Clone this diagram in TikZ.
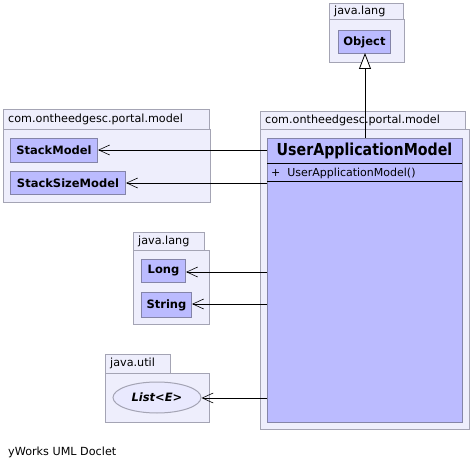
\documentclass[tikz,border=0pt]{standalone}
\usepackage{fontspec}
\setmainfont{DejaVu Sans}
\usetikzlibrary{arrows.meta,shapes.geometric}
\definecolor{pkgfill}{HTML}{EEEEFC}
\definecolor{pkgline}{HTML}{A4A4B4}
\definecolor{clsfill}{HTML}{BBBBFF}
\definecolor{clsline}{HTML}{8484A8}
\tikzset{
  pkg/.style={draw=pkgline, fill=pkgfill, line width=1pt, inner sep=0pt, anchor=north west},
  pkglabel/.style={anchor=west, inner sep=0pt, font=\fontsize{11.2}{13}\selectfont},
  cls/.style={draw=clsline, fill=clsfill, line width=1pt, inner sep=0pt, anchor=north west},
  clsname/.style={font=\bfseries\fontsize{11.5}{13}\selectfont},
  dep/.style={draw=black, line width=0.8pt, -{Straight Barb[length=11pt,width=10pt,line width=0.6pt]}},
  gen/.style={draw=black, line width=0.8pt, -{Triangle[open,fill=white,length=16pt,width=12pt,line width=0.8pt]}},
}
\begin{document}
\begin{tikzpicture}[x=1pt,y=-1pt]
\useasboundingbox[fill=white] (0,0) rectangle (472,468);
% java.lang (top)
\node[pkg, minimum width=74pt, minimum height=16pt] (jl1tab) at (329,3) {};
\node[pkg, minimum width=75pt, minimum height=43pt] (jl1body) at (329,19) {};
\node[pkglabel] (jl1lbl) at (334,11) {java.lang};
\node[cls, minimum width=52pt, minimum height=23pt] (object) at (338,30) {};
\node[clsname] (objtxt) at (object.center) {Object};
% left package
\node[pkg, minimum width=206pt, minimum height=20pt] (lptab) at (3,109) {};
\node[pkg, minimum width=207pt, minimum height=73pt] (lpbody) at (3,129) {};
\node[pkglabel] (lplbl) at (8,119) {com.ontheedgesc.portal.model};
\node[cls, minimum width=87pt, minimum height=24pt] (stack) at (10,138) {};
\node[clsname] (stacktxt) at (stack.center) {StackModel};
\node[cls, minimum width=115pt, minimum height=23pt] (stacksize) at (10,171) {};
\node[clsname] (stacksizetxt) at (stacksize.center) {StackSizeModel};
% right package
\node[pkg, minimum width=205pt, minimum height=18pt] (rptab) at (260,111) {};
\node[pkg, minimum width=209pt, minimum height=300pt] (rpbody) at (260,129) {};
\node[pkglabel] (rplbl) at (265,120) {com.ontheedgesc.portal.model};
\node[cls, minimum width=195pt, minimum height=284pt] (uam) at (267,138) {};
\node (uamtxt) at (364.5,151) {\scalebox{0.86}[1]{\bfseries\fontsize{16.5}{20}\selectfont UserApplicationModel}};
\coordinate (s1l) at (267,164); \coordinate (s1r) at (462,164);
\coordinate (s2l) at (267,182); \coordinate (s2r) at (462,182);
\draw[line width=1pt] (s1l) -- (s1r);
\draw[line width=1pt] (s2l) -- (s2r);
\node[anchor=west, inner sep=0pt, font=\fontsize{11}{12}\selectfont] (ctor) at (271,173) {+\ \ UserApplicationModel()};
% java.lang (middle)
\node[pkg, minimum width=71pt, minimum height=18pt] (jl2tab) at (133,232) {};
\node[pkg, minimum width=76pt, minimum height=74pt] (jl2body) at (133,250) {};
\node[pkglabel] (jl2lbl) at (138,241) {java.lang};
\node[cls, minimum width=44pt, minimum height=23pt] (long) at (141,259) {};
\node[clsname] (longtxt) at (long.center) {Long};
\node[cls, minimum width=50pt, minimum height=25pt] (string) at (141,292) {};
\node[clsname] (stringtxt) at (string.center) {String};
% java.util
\node[pkg, minimum width=65pt, minimum height=19pt] (jutab) at (105,354) {};
\node[pkg, minimum width=104pt, minimum height=49pt] (jubody) at (105,373) {};
\node[pkglabel] (julbl) at (110,363.5) {java.util};
\node[ellipse, draw=pkgline, fill=pkgfill!60!clsfill!60!white, line width=1pt, minimum width=88pt, minimum height=31pt, inner sep=0pt] (list) at (157,397.5) {\bfseries\itshape\fontsize{11.5}{13}\selectfont List<E>};
% connectors
\coordinate (g0) at (365,138);
\coordinate (g1) at (365,53);
\draw[gen] (g0) -- (g1);
\draw[dep] (uam.west |- 0,150) -- (stack.east |- 0,150);
\draw[dep] (uam.west |- 0,183) -- (stacksize.east |- 0,183);
\draw[dep] (uam.west |- 0,272) -- (long.east |- 0,272);
\draw[dep] (uam.west |- 0,304) -- (string.east |- 0,304);
\draw[dep] (uam.west |- 0,398) -- (list.east |- 0,398);
% footer
\node[anchor=west, inner sep=0pt, font=\fontsize{11.2}{13}\selectfont] (footer) at (8,452) {yWorks UML Doclet};
\end{tikzpicture}
\end{document}
